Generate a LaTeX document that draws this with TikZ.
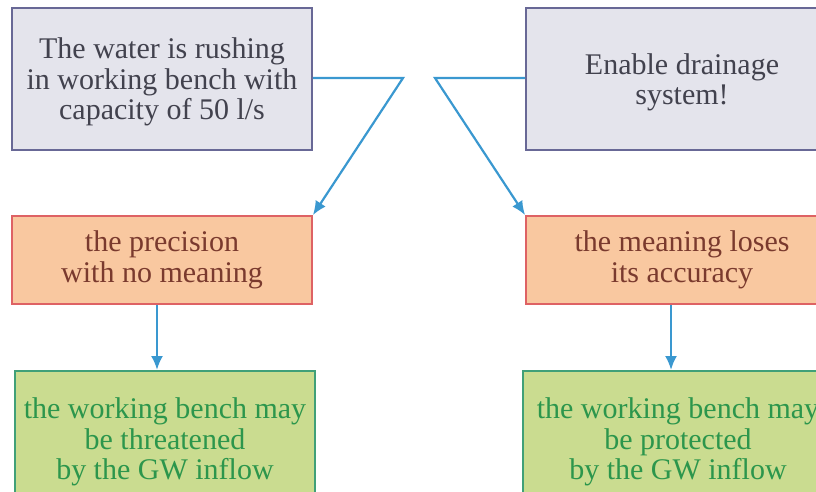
\documentclass[tikz,border=0pt]{standalone}
\usepackage{fontspec}
\setmainfont{Liberation Serif}
\usetikzlibrary{positioning,arrows.meta}
\definecolor{grisFill}{RGB}{228,228,236}
\definecolor{grisDraw}{RGB}{104,104,150}
\definecolor{grisText}{RGB}{66,66,78}
\definecolor{naranjaFill}{RGB}{249,200,160}
\definecolor{naranjaDraw}{RGB}{222,98,100}
\definecolor{naranjaText}{RGB}{122,58,46}
\definecolor{verdeFill}{RGB}{202,220,144}
\definecolor{verdeDraw}{RGB}{64,160,120}
\definecolor{verdeText}{RGB}{44,150,76}
\definecolor{azulFlecha}{RGB}{58,152,208}

\begin{document}
\begin{tikzpicture}[x=1pt,y=-1pt,
  caja/.style={draw, line width=1.8pt, align=center, inner sep=0pt,
    font=\fontsize{30}{30.5}\selectfont},
  topbox/.style={caja, fill=grisFill, draw=grisDraw, text=grisText,
    minimum height=142pt, text depth=-10pt},
  orangebox/.style={caja, fill=naranjaFill, draw=naranjaDraw,
    text=naranjaText, minimum height=88pt},
  greenbox/.style={caja, fill=verdeFill, draw=verdeDraw, text=verdeText,
    minimum height=142pt},
  flowarrow/.style={-{Latex[length=14pt,width=12pt]}, line width=2.2pt,
    azulFlecha}]
  \useasboundingbox (0,0) rectangle (816,491);
  \clip (0,0) rectangle (816,491);
  % Top row
  \node[topbox, minimum width=300pt] (water) at (162,79)
    {The water is rushing\\in working bench with\\capacity of 50 l/s};
  \node[topbox, minimum width=312pt] (drain) at (682,79)
    {Enable drainage\\system!};
  % Middle row
  \node[orangebox, minimum width=300pt] (precision) at (162,260)
    {the precision\\with no meaning};
  \node[orangebox, minimum width=312pt] (meaning) at (682,260)
    {the meaning loses\\its accuracy};
  % Bottom row
  \node[greenbox, minimum width=300pt, anchor=north] (threat) at (165,370)
    {the working bench may\\be threatened\\by the GW inflow};
  \node[greenbox, minimum width=310pt, anchor=north] (protect) at (678,370)
    {the working bench may\\be protected\\by the GW inflow};
  % Crossed connectors
  \coordinate (kinkL) at (403,78);
  \coordinate (kinkR) at (435,78);
  \draw[flowarrow] (water.east |- kinkL) -- (kinkL) -- (precision.north east);
  \draw[flowarrow] (drain.west |- kinkR) -- (kinkR) -- (meaning.north west);
  % Vertical arrows
  \draw[flowarrow] ([xshift=-5pt]precision.south)
    -- ([xshift=-5pt]precision.south |- threat.north);
  \draw[flowarrow] ([xshift=-11pt]meaning.south)
    -- ([xshift=-11pt]meaning.south |- protect.north);
\end{tikzpicture}
\end{document}
